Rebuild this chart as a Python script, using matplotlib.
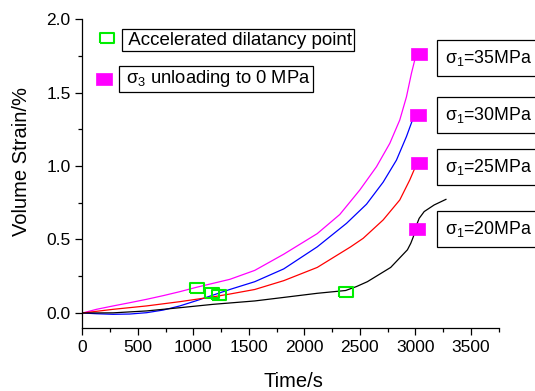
import matplotlib
matplotlib.use("Agg")
import matplotlib.pyplot as plt
from matplotlib.ticker import MultipleLocator

plt.rcParams['font.family'] = ['Liberation Sans', 'DejaVu Sans']
plt.rcParams['mathtext.fontset'] = 'custom'
plt.rcParams['mathtext.rm'] = 'Liberation Sans'
plt.rcParams['mathtext.it'] = 'Liberation Sans'

# volume strain (%) vs time (s) for each axial stress level
t35 = [0, 126, 276, 426, 577, 727, 877, 1028, 1178, 1328, 1553, 1814, 2116, 2319,
       2500, 2650, 2770, 2860, 2920, 2965, 2995]
v35 = [0, 0.025, 0.048, 0.07, 0.093, 0.118, 0.145, 0.175, 0.202, 0.229, 0.29, 0.40,
       0.54, 0.67, 0.837, 0.995, 1.154, 1.313, 1.47, 1.63, 1.721]

t30 = [0, 126, 276, 426, 577, 727, 877, 1028, 1178, 1328, 1553, 1814, 2116, 2380,
       2560, 2710, 2830, 2920, 2980]
v30 = [0, -0.005, -0.009, -0.007, 0.002, 0.02, 0.048, 0.084, 0.122, 0.16, 0.213, 0.30,
       0.45, 0.61, 0.74, 0.89, 1.04, 1.20, 1.324]

t25 = [0, 276, 577, 877, 1178, 1328, 1553, 1814, 2116, 2417, 2530, 2710, 2860, 2950,
       2995]
v25 = [0, 0.025, 0.048, 0.077, 0.11, 0.129, 0.16, 0.22, 0.31, 0.45, 0.508, 0.633, 0.769,
       0.905, 0.984]

t20 = [0, 276, 577, 877, 1178, 1553, 1814, 2116, 2372, 2470, 2568, 2778, 2929,
       2959, 2983, 3005, 3035, 3080, 3170, 3276]
v20 = [0, 0.001, 0.014, 0.036, 0.059, 0.082, 0.106, 0.134, 0.153, 0.18, 0.213, 0.31,
       0.43, 0.474, 0.52, 0.587, 0.644, 0.69, 0.735, 0.773]

# accelerated dilatancy points
dil_t = [1033, 1171, 1229, 2372]
dil_v = [0.168, 0.134, 0.12, 0.145]

# sigma3 unloading points
unl_t = [3035, 3025, 3035, 3011]
unl_v = [1.76, 1.35, 1.02, 0.57]

labels = ['σ$_1$=35MPa', 'σ$_1$=30MPa', 'σ$_1$=25MPa', 'σ$_1$=20MPa']
label_v = [1.737, 1.35, 0.993, 0.571]

# flat rectangular marker, like the Origin squares
rect = [(-1.25, -1), (1.25, -1), (1.25, 1), (-1.25, 1), (-1.25, -1)]
green_kw = dict(ls='none', marker=rect, ms=9.8, mfc='none', mec='#00ee00', mew=1.5)
pink_kw = dict(ls='none', marker=rect, ms=11.2, mfc='#ff00ff', mec='#ff00ff', mew=0.5)

fig = plt.figure(figsize=(5.35, 3.91), dpi=100)
ax = fig.add_axes([0.1542, 0.1619, 0.7776, 0.7895])

lw = 0.9
ax.plot(t35, v35, color='#ff00ff', lw=lw)
ax.plot(t30, v30, color='#0000ff', lw=lw)
ax.plot(t25, v25, color='#ff0000', lw=lw)
ax.plot(t20, v20, color='black', lw=lw)

ax.plot(dil_t, dil_v, **green_kw)
ax.plot(unl_t, unl_v, **pink_kw)

box = dict(boxstyle='square,pad=0.12', fc='white', ec='black', lw=0.9)

# legend-style entries
ax.plot([219], [1.874], clip_on=False, **green_kw)
ax.text(372, 1.857, ' Accelerated dilatancy point', fontsize=13.5,
        ha='left', va='center', bbox=box)
ax.plot([196], [1.592], clip_on=False, **pink_kw)
ax.text(345, 1.592, ' σ$_3$ unloading to 0 MPa', fontsize=13.2,
        ha='left', va='center', bbox=box)

# stress-level tags to the right of the curves
for lab, y in zip(labels, label_v):
    ax.text(3268, y, lab, fontsize=12.8, ha='left', va='center',
            bbox=dict(boxstyle='square,pad=0.45', fc='white', ec='black', lw=0.9),
            clip_on=False)

ax.set_xlim(0, 3750)
ax.set_ylim(-0.1, 2.0)
ax.xaxis.set_major_locator(MultipleLocator(500))
ax.xaxis.set_minor_locator(MultipleLocator(250))
ax.yaxis.set_major_locator(MultipleLocator(0.5))
ax.yaxis.set_minor_locator(MultipleLocator(0.25))
ax.tick_params(which='major', direction='out', length=5, width=0.9, labelsize=12.5)
ax.tick_params(which='minor', direction='out', length=3, width=0.9)

for side in ['top', 'right']:
    ax.spines[side].set_visible(False)
for side in ['left', 'bottom']:
    ax.spines[side].set_linewidth(0.9)

ax.set_xlabel('Time/s', fontsize=14.5)
ax.set_ylabel('Volume Strain/%', fontsize=14.5)
ax.xaxis.set_label_coords(0.507, -0.145)
ax.yaxis.set_label_coords(-0.123, 0.54)

fig.savefig('out.png', dpi=100)
